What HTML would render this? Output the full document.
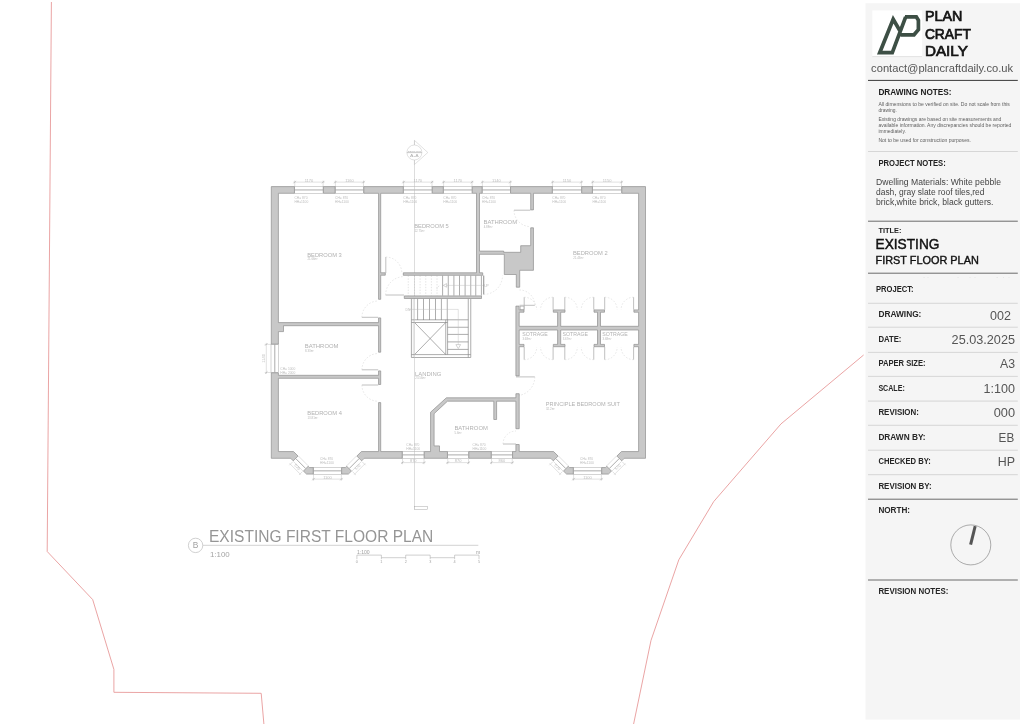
<!DOCTYPE html>
<html lang="en"><head><meta charset="utf-8"><title>Existing First Floor Plan</title>
<style>
html,body{margin:0;padding:0;background:#fff;}
body{width:1024px;height:724px;overflow:hidden;font-family:"Liberation Sans",sans-serif;}
svg{position:absolute;left:0;top:0;display:block;will-change:transform}
text{font-family:"Liberation Sans",sans-serif;}
.wall{fill:#c8c8c8;stroke:#8e8e8e;stroke-width:.7}
.win{fill:#fff;stroke:#a9a9a9;stroke-width:.5}
.sq{fill:#fff;stroke:#a9a9a9;stroke-width:.5}
.l{stroke:#a9a9a9;stroke-width:.6;fill:none}
.t{stroke:#bdbdbd;stroke-width:.45;fill:none}
.wm{stroke:#ababab;stroke-width:1;fill:none}
.st{stroke:#8a8a8a;stroke-width:.7;fill:none}
.sec{stroke:#bababa;stroke-width:.5;fill:none}
.leaf{stroke:#b0b0b0;stroke-width:.8;fill:none}
.arc{stroke:#cfcfcf;stroke-width:.5;fill:none;stroke-dasharray:1.6 1.6}
.dash{stroke:#c8c8c8;stroke-width:.5;fill:none;stroke-dasharray:1.4 1.4}
.tri{fill:#fff;stroke:#a9a9a9;stroke-width:.5}
.red{stroke:#e89a9a;stroke-width:.9;fill:none}
.room{font-size:6px;fill:#b1b1b1}
.area{font-size:2.9px;fill:#b8b8b8}
.wl{font-size:3.3px;fill:#bcbcbc}
.dim{font-size:4px;fill:#bcbcbc}
.sec1{font-size:2.4px;fill:#b4b4b4}
.sm{stroke:#c2c2c2;stroke-width:.5;fill:none}
.sm2{stroke:#b4b4b4;stroke-width:.7}
.sec2{font-size:4.1px;fill:#b0b0b0}
.tb{font-size:8.4px;fill:#a2a2a2}
.tl{stroke:#c6c6c6;stroke-width:.8}
.title{font-size:15.6px;fill:#959595}
.tscale{font-size:7.9px;fill:#a4a4a4}
.sb{stroke:#a8a8a8;stroke-width:.55}
.sbn{font-size:3.8px;fill:#a4a4a4}
.sbt{font-size:5.1px;fill:#a0a0a0}
.brand{font-size:14.2px;fill:#141414;stroke:#141414;stroke-width:.7}
.email{font-size:11.2px;fill:#555}
.d1{stroke:#3a3a3a;stroke-width:1}
.d2{stroke:#6a6a6a;stroke-width:1}
.d3{stroke:#d2d2d2;stroke-width:.9}
.h1{font-size:9px;font-weight:bold;fill:#1c1c1c}
.h2{font-size:8.6px;font-weight:bold;fill:#222}
.h3{font-size:7.8px;font-weight:bold;fill:#222}
.h3b{font-size:8.2px;font-weight:bold;fill:#262626}
.note{font-size:5px;fill:#606060}
.pn{font-size:8.3px;fill:#444}
.t1{font-size:14.5px;fill:#111;stroke:#111;stroke-width:.45}
.t2{font-size:11.2px;fill:#111;stroke:#111;stroke-width:.4}
.val{font-size:12.6px;fill:#555}
</style></head>
<body>
<svg width="1024" height="724" viewBox="0 0 1024 724">
<rect width="1024" height="724" fill="#ffffff"/>
<g id="plan">
<rect class="win" x="294.75" y="186.30" width="28.35" height="7.30"/>
<line class="wm" x1="294.75" y1="189.95" x2="323.10" y2="189.95"/>
<line class="t" x1="293.25" y1="182.10" x2="324.60" y2="182.10"/>
<line class="t" x1="294.75" y1="180.50" x2="294.75" y2="186.30"/>
<line class="t" x1="323.10" y1="180.50" x2="323.10" y2="186.30"/>
<line class="l" x1="293.55" y1="183.30" x2="295.95" y2="180.90"/>
<line class="l" x1="321.90" y1="183.30" x2="324.30" y2="180.90"/>
<text class="dim" x="308.93" y="181.60" text-anchor="middle">1170</text>
<text class="wl" x="294.45" y="199.20" >CH= 870</text>
<text class="wl" x="294.45" y="203.30" >HH=1100</text>
<rect class="win" x="335.40" y="186.30" width="28.10" height="7.30"/>
<line class="wm" x1="335.40" y1="189.95" x2="363.50" y2="189.95"/>
<line class="t" x1="333.90" y1="182.10" x2="365.00" y2="182.10"/>
<line class="t" x1="335.40" y1="180.50" x2="335.40" y2="186.30"/>
<line class="t" x1="363.50" y1="180.50" x2="363.50" y2="186.30"/>
<line class="l" x1="334.20" y1="183.30" x2="336.60" y2="180.90"/>
<line class="l" x1="362.30" y1="183.30" x2="364.70" y2="180.90"/>
<text class="dim" x="349.45" y="181.60" text-anchor="middle">1160</text>
<text class="wl" x="335.10" y="199.20" >CH= 870</text>
<text class="wl" x="335.10" y="203.30" >HH=1100</text>
<rect class="win" x="403.60" y="186.30" width="28.40" height="7.30"/>
<line class="wm" x1="403.60" y1="189.95" x2="432.00" y2="189.95"/>
<line class="t" x1="402.10" y1="182.10" x2="433.50" y2="182.10"/>
<line class="t" x1="403.60" y1="180.50" x2="403.60" y2="186.30"/>
<line class="t" x1="432.00" y1="180.50" x2="432.00" y2="186.30"/>
<line class="l" x1="402.40" y1="183.30" x2="404.80" y2="180.90"/>
<line class="l" x1="430.80" y1="183.30" x2="433.20" y2="180.90"/>
<text class="dim" x="417.80" y="181.60" text-anchor="middle">1170</text>
<text class="wl" x="403.30" y="199.20" >CH= 870</text>
<text class="wl" x="403.30" y="203.30" >HH=1100</text>
<rect class="win" x="443.60" y="186.30" width="28.40" height="7.30"/>
<line class="wm" x1="443.60" y1="189.95" x2="472.00" y2="189.95"/>
<line class="t" x1="442.10" y1="182.10" x2="473.50" y2="182.10"/>
<line class="t" x1="443.60" y1="180.50" x2="443.60" y2="186.30"/>
<line class="t" x1="472.00" y1="180.50" x2="472.00" y2="186.30"/>
<line class="l" x1="442.40" y1="183.30" x2="444.80" y2="180.90"/>
<line class="l" x1="470.80" y1="183.30" x2="473.20" y2="180.90"/>
<text class="dim" x="457.80" y="181.60" text-anchor="middle">1170</text>
<text class="wl" x="443.30" y="199.20" >CH= 870</text>
<text class="wl" x="443.30" y="203.30" >HH=1100</text>
<rect class="win" x="482.40" y="186.30" width="27.85" height="7.30"/>
<line class="wm" x1="482.40" y1="189.95" x2="510.25" y2="189.95"/>
<line class="t" x1="480.90" y1="182.10" x2="511.75" y2="182.10"/>
<line class="t" x1="482.40" y1="180.50" x2="482.40" y2="186.30"/>
<line class="t" x1="510.25" y1="180.50" x2="510.25" y2="186.30"/>
<line class="l" x1="481.20" y1="183.30" x2="483.60" y2="180.90"/>
<line class="l" x1="509.05" y1="183.30" x2="511.45" y2="180.90"/>
<text class="dim" x="496.32" y="181.60" text-anchor="middle">1140</text>
<text class="wl" x="482.10" y="199.20" >CH= 870</text>
<text class="wl" x="482.10" y="203.30" >HH=1100</text>
<rect class="win" x="552.60" y="186.30" width="28.80" height="7.30"/>
<line class="wm" x1="552.60" y1="189.95" x2="581.40" y2="189.95"/>
<line class="t" x1="551.10" y1="182.10" x2="582.90" y2="182.10"/>
<line class="t" x1="552.60" y1="180.50" x2="552.60" y2="186.30"/>
<line class="t" x1="581.40" y1="180.50" x2="581.40" y2="186.30"/>
<line class="l" x1="551.40" y1="183.30" x2="553.80" y2="180.90"/>
<line class="l" x1="580.20" y1="183.30" x2="582.60" y2="180.90"/>
<text class="dim" x="567.00" y="181.60" text-anchor="middle">1150</text>
<text class="wl" x="552.30" y="199.20" >CH= 870</text>
<text class="wl" x="552.30" y="203.30" >HH=1100</text>
<rect class="win" x="592.70" y="186.30" width="28.80" height="7.30"/>
<line class="wm" x1="592.70" y1="189.95" x2="621.50" y2="189.95"/>
<line class="t" x1="591.20" y1="182.10" x2="623.00" y2="182.10"/>
<line class="t" x1="592.70" y1="180.50" x2="592.70" y2="186.30"/>
<line class="t" x1="621.50" y1="180.50" x2="621.50" y2="186.30"/>
<line class="l" x1="591.50" y1="183.30" x2="593.90" y2="180.90"/>
<line class="l" x1="620.30" y1="183.30" x2="622.70" y2="180.90"/>
<text class="dim" x="607.10" y="181.60" text-anchor="middle">1150</text>
<text class="wl" x="592.40" y="199.20" >CH= 870</text>
<text class="wl" x="592.40" y="203.30" >HH=1100</text>
<line class="t" x1="298.46" y1="456.06" x2="308.22" y2="465.82"/>
<line class="wm" x1="295.84" y1="458.67" x2="305.60" y2="468.43"/>
<line class="t" x1="293.23" y1="461.29" x2="302.98" y2="471.05"/>
<line class="t" x1="289.62" y1="463.48" x2="300.79" y2="474.66"/>
<line class="t" x1="292.66" y1="461.86" x2="289.27" y2="465.25"/>
<line class="t" x1="302.42" y1="471.61" x2="299.02" y2="475.01"/>
<text class="dim" text-anchor="middle" transform="translate(296.34,467.94) rotate(45)">570</text>
<line class="t" x1="356.44" y1="456.06" x2="346.68" y2="465.82"/>
<line class="wm" x1="359.06" y1="458.67" x2="349.30" y2="468.43"/>
<line class="t" x1="361.67" y1="461.29" x2="351.92" y2="471.05"/>
<line class="t" x1="365.28" y1="463.48" x2="354.11" y2="474.66"/>
<line class="t" x1="362.24" y1="461.86" x2="365.63" y2="465.25"/>
<line class="t" x1="352.48" y1="471.61" x2="355.88" y2="475.01"/>
<text class="dim" text-anchor="middle" transform="translate(358.56,467.94) rotate(-45)">570</text>
<rect class="win" x="313.55" y="467.25" width="27.80" height="7.15"/>
<line class="wm" x1="313.55" y1="470.85" x2="341.35" y2="470.85"/>
<line class="t" x1="312.05" y1="479.10" x2="342.85" y2="479.10"/>
<line class="t" x1="313.55" y1="474.40" x2="313.55" y2="480.70"/>
<line class="t" x1="341.35" y1="474.40" x2="341.35" y2="480.70"/>
<line class="l" x1="312.35" y1="480.30" x2="314.75" y2="477.90"/>
<line class="l" x1="340.15" y1="480.30" x2="342.55" y2="477.90"/>
<text class="dim" x="327.45" y="478.60" text-anchor="middle">1100</text>
<text class="wl" x="320.05" y="459.60" >CH= 870</text>
<text class="wl" x="320.05" y="463.70" >HH=1100</text>
<line class="t" x1="558.51" y1="456.06" x2="568.27" y2="465.82"/>
<line class="wm" x1="555.89" y1="458.67" x2="565.65" y2="468.43"/>
<line class="t" x1="553.28" y1="461.29" x2="563.03" y2="471.05"/>
<line class="t" x1="549.67" y1="463.48" x2="560.84" y2="474.66"/>
<line class="t" x1="552.71" y1="461.86" x2="549.32" y2="465.25"/>
<line class="t" x1="562.47" y1="471.61" x2="559.07" y2="475.01"/>
<text class="dim" text-anchor="middle" transform="translate(556.39,467.94) rotate(45)">570</text>
<line class="t" x1="616.49" y1="456.06" x2="606.73" y2="465.82"/>
<line class="wm" x1="619.11" y1="458.67" x2="609.35" y2="468.43"/>
<line class="t" x1="621.72" y1="461.29" x2="611.97" y2="471.05"/>
<line class="t" x1="625.33" y1="463.48" x2="614.16" y2="474.66"/>
<line class="t" x1="622.29" y1="461.86" x2="625.68" y2="465.25"/>
<line class="t" x1="612.53" y1="471.61" x2="615.93" y2="475.01"/>
<text class="dim" text-anchor="middle" transform="translate(618.61,467.94) rotate(-45)">570</text>
<rect class="win" x="573.60" y="467.25" width="27.80" height="7.15"/>
<line class="wm" x1="573.60" y1="470.85" x2="601.40" y2="470.85"/>
<line class="t" x1="572.10" y1="479.10" x2="602.90" y2="479.10"/>
<line class="t" x1="573.60" y1="474.40" x2="573.60" y2="480.70"/>
<line class="t" x1="601.40" y1="474.40" x2="601.40" y2="480.70"/>
<line class="l" x1="572.40" y1="480.30" x2="574.80" y2="477.90"/>
<line class="l" x1="600.20" y1="480.30" x2="602.60" y2="477.90"/>
<text class="dim" x="587.50" y="478.60" text-anchor="middle">1100</text>
<text class="wl" x="580.10" y="459.60" >CH= 870</text>
<text class="wl" x="580.10" y="463.70" >HH=1100</text>
<rect class="win" x="402.50" y="451.25" width="21.50" height="7.35"/>
<line class="wm" x1="402.50" y1="454.90" x2="424.00" y2="454.90"/>
<line class="t" x1="401.00" y1="462.60" x2="425.50" y2="462.60"/>
<line class="t" x1="402.50" y1="458.60" x2="402.50" y2="464.20"/>
<line class="t" x1="424.00" y1="458.60" x2="424.00" y2="464.20"/>
<line class="l" x1="401.30" y1="463.80" x2="403.70" y2="461.40"/>
<line class="l" x1="422.80" y1="463.80" x2="425.20" y2="461.40"/>
<text class="dim" x="413.25" y="462.20" text-anchor="middle">870</text>
<rect class="win" x="447.75" y="451.25" width="20.75" height="7.35"/>
<line class="wm" x1="447.75" y1="454.90" x2="468.50" y2="454.90"/>
<line class="t" x1="446.25" y1="462.60" x2="470.00" y2="462.60"/>
<line class="t" x1="447.75" y1="458.60" x2="447.75" y2="464.20"/>
<line class="t" x1="468.50" y1="458.60" x2="468.50" y2="464.20"/>
<line class="l" x1="446.55" y1="463.80" x2="448.95" y2="461.40"/>
<line class="l" x1="467.30" y1="463.80" x2="469.70" y2="461.40"/>
<text class="dim" x="458.12" y="462.20" text-anchor="middle">870</text>
<rect class="win" x="491.50" y="451.25" width="20.75" height="7.35"/>
<line class="wm" x1="491.50" y1="454.90" x2="512.25" y2="454.90"/>
<line class="t" x1="490.00" y1="462.60" x2="513.75" y2="462.60"/>
<line class="t" x1="491.50" y1="458.60" x2="491.50" y2="464.20"/>
<line class="t" x1="512.25" y1="458.60" x2="512.25" y2="464.20"/>
<line class="l" x1="490.30" y1="463.80" x2="492.70" y2="461.40"/>
<line class="l" x1="511.05" y1="463.80" x2="513.45" y2="461.40"/>
<text class="dim" x="501.88" y="462.20" text-anchor="middle">860</text>
<text class="wl" x="406.30" y="445.60" >CH= 870</text>
<text class="wl" x="406.30" y="449.50" >HH=1100</text>
<text class="wl" x="472.50" y="445.60" >CH= 870</text>
<text class="wl" x="472.50" y="449.50" >HH=1100</text>
<rect class="win" x="271.00" y="344.40" width="7.70" height="28.10"/>
<line class="wm" x1="274.80" y1="344.40" x2="274.80" y2="372.50"/>
<line class="t" x1="266.30" y1="342.90" x2="266.30" y2="374.00"/>
<line class="t" x1="264.70" y1="344.40" x2="271.00" y2="344.40"/>
<line class="t" x1="264.70" y1="372.50" x2="271.00" y2="372.50"/>
<line class="l" x1="265.10" y1="345.60" x2="267.50" y2="343.20"/>
<line class="l" x1="265.10" y1="373.70" x2="267.50" y2="371.30"/>
<text class="dim" text-anchor="middle" transform="translate(265.40,358.4) rotate(-90)">1140</text>
<text class="wl" x="280.30" y="369.90" >CH= 1000</text>
<text class="wl" x="280.30" y="373.70" >HH= 2000</text>
<line class="leaf" x1="378.20" y1="317.30" x2="361.90" y2="317.30"/>
<path class="arc" d="M361.90,317.30 A16.30,16.30 0 0 1 378.20,301.00"/>
<line class="leaf" x1="378.20" y1="369.80" x2="361.90" y2="369.80"/>
<path class="arc" d="M361.90,369.80 A16.30,16.30 0 0 1 378.20,353.50"/>
<line class="leaf" x1="378.20" y1="385.00" x2="361.90" y2="385.00"/>
<path class="arc" d="M361.90,385.00 A16.30,16.30 0 0 0 378.20,401.30"/>
<line class="leaf" x1="385.80" y1="273.00" x2="385.80" y2="257.00"/>
<path class="arc" d="M385.80,257.00 A16.00,16.00 0 0 1 401.80,273.00"/>
<line class="leaf" x1="404.00" y1="295.00" x2="385.60" y2="295.00"/>
<path class="arc" d="M385.60,295.00 A18.40,18.40 0 0 1 404.00,276.60"/>
<line class="leaf" x1="483.70" y1="275.60" x2="483.70" y2="294.40"/>
<path class="arc" d="M483.70,294.40 A18.80,18.80 0 0 0 502.50,275.60"/>
<line class="leaf" x1="530.40" y1="210.20" x2="514.00" y2="210.20"/>
<path class="arc" d="M514.00,210.20 A16.40,16.40 0 0 0 530.40,226.60"/>
<line class="leaf" x1="519.50" y1="305.30" x2="534.80" y2="305.30"/>
<path class="arc" d="M534.80,305.30 A15.30,15.30 0 0 0 519.50,290.00"/>
<rect class="sq" x="520.30" y="306.50" width="3.70" height="3.30"/>
<line class="leaf" x1="516.00" y1="376.90" x2="534.80" y2="376.90"/>
<path class="arc" d="M534.80,376.90 A18.80,18.80 0 0 1 516.00,395.70"/>
<line class="leaf" x1="516.00" y1="444.00" x2="503.00" y2="444.00"/>
<path class="arc" d="M503.00,444.00 A13.00,13.00 0 0 1 516.00,431.00"/>
<line class="leaf" x1="524.20" y1="309.70" x2="524.20" y2="297.20"/>
<line class="leaf" x1="524.20" y1="346.90" x2="524.20" y2="359.70"/>
<path class="arc" d="M524.20,297.2 A12.5,12.5 0 0 1 536.70,309.7"/>
<path class="arc" d="M524.20,359.7 A12.5,12.5 0 0 0 536.70,347.2"/>
<line class="leaf" x1="553.10" y1="309.70" x2="553.10" y2="297.20"/>
<line class="leaf" x1="553.10" y1="346.90" x2="553.10" y2="359.70"/>
<path class="arc" d="M553.10,297.2 A12.5,12.5 0 0 0 540.60,309.7"/>
<path class="arc" d="M553.10,359.7 A12.5,12.5 0 0 1 540.60,347.2"/>
<line class="leaf" x1="564.80" y1="309.70" x2="564.80" y2="297.20"/>
<line class="leaf" x1="564.80" y1="346.90" x2="564.80" y2="359.70"/>
<path class="arc" d="M564.80,297.2 A12.5,12.5 0 0 1 577.30,309.7"/>
<path class="arc" d="M564.80,359.7 A12.5,12.5 0 0 0 577.30,347.2"/>
<line class="leaf" x1="593.75" y1="309.70" x2="593.75" y2="297.20"/>
<line class="leaf" x1="593.75" y1="346.90" x2="593.75" y2="359.70"/>
<path class="arc" d="M593.75,297.2 A12.5,12.5 0 0 0 581.25,309.7"/>
<path class="arc" d="M593.75,359.7 A12.5,12.5 0 0 1 581.25,347.2"/>
<line class="leaf" x1="604.70" y1="309.70" x2="604.70" y2="297.20"/>
<line class="leaf" x1="604.70" y1="346.90" x2="604.70" y2="359.70"/>
<path class="arc" d="M604.70,297.2 A12.5,12.5 0 0 1 617.20,309.7"/>
<path class="arc" d="M604.70,359.7 A12.5,12.5 0 0 0 617.20,347.2"/>
<line class="leaf" x1="633.60" y1="309.70" x2="633.60" y2="297.20"/>
<line class="leaf" x1="633.60" y1="346.90" x2="633.60" y2="359.70"/>
<path class="arc" d="M633.60,297.2 A12.5,12.5 0 0 0 621.10,309.7"/>
<path class="arc" d="M633.60,359.7 A12.5,12.5 0 0 1 621.10,347.2"/>
<line class="st" x1="442.60" y1="275.60" x2="442.60" y2="295.60"/>
<line class="st" x1="448.25" y1="275.60" x2="448.25" y2="295.60"/>
<line class="st" x1="453.90" y1="275.60" x2="453.90" y2="295.60"/>
<line class="st" x1="459.50" y1="275.60" x2="459.50" y2="295.60"/>
<line class="st" x1="465.10" y1="275.60" x2="465.10" y2="295.60"/>
<line class="st" x1="470.75" y1="275.60" x2="470.75" y2="295.60"/>
<line class="st" x1="475.75" y1="275.60" x2="475.75" y2="295.60"/>
<line class="st" x1="481.40" y1="275.60" x2="481.40" y2="295.60"/>
<line class="dash" x1="408.25" y1="275.60" x2="408.25" y2="295.60"/>
<line class="dash" x1="414.50" y1="275.60" x2="414.50" y2="295.60"/>
<line class="dash" x1="420.10" y1="275.60" x2="420.10" y2="295.60"/>
<line class="dash" x1="425.75" y1="275.60" x2="425.75" y2="295.60"/>
<line class="dash" x1="431.40" y1="275.60" x2="431.40" y2="295.60"/>
<line class="dash" x1="437.00" y1="275.60" x2="437.00" y2="295.60"/>
<line class="t" x1="446.50" y1="285.40" x2="484.50" y2="285.40"/>
<polygon class="tri" points="443.20,285.40 446.60,283.60 446.60,287.20"/>
<path class="dash" d="M437,289 L437,287.5 L440,285.4"/>
<text class="wl" x="484.20" y="286.60" >UP</text>
<line class="st" x1="483.70" y1="275.60" x2="483.70" y2="294.40"/>
<line class="st" x1="417.60" y1="298.80" x2="417.60" y2="320.00"/>
<line class="st" x1="423.50" y1="298.80" x2="423.50" y2="320.00"/>
<line class="st" x1="429.50" y1="298.80" x2="429.50" y2="320.00"/>
<line class="st" x1="435.50" y1="298.80" x2="435.50" y2="320.00"/>
<line class="st" x1="441.40" y1="298.80" x2="441.40" y2="320.00"/>
<line class="st" x1="447.25" y1="298.80" x2="447.25" y2="320.00"/>
<line class="st" x1="411.40" y1="298.80" x2="411.40" y2="357.50"/>
<line class="t" x1="413.30" y1="298.80" x2="413.30" y2="357.50"/>
<line class="st" x1="468.25" y1="298.80" x2="468.25" y2="357.50"/>
<line class="st" x1="470.75" y1="298.80" x2="470.75" y2="357.50"/>
<line class="st" x1="411.40" y1="319.80" x2="468.25" y2="319.80"/>
<line class="st" x1="411.40" y1="322.50" x2="447.60" y2="322.50"/>
<line class="st" x1="411.40" y1="354.60" x2="470.75" y2="354.60"/>
<line class="st" x1="411.40" y1="357.50" x2="470.75" y2="357.50"/>
<line class="st" x1="445.75" y1="319.80" x2="445.75" y2="354.60"/>
<line class="st" x1="447.60" y1="319.80" x2="447.60" y2="354.60"/>
<line class="st" x1="447.60" y1="327.25" x2="468.25" y2="327.25"/>
<line class="st" x1="447.60" y1="334.40" x2="468.25" y2="334.40"/>
<line class="st" x1="447.60" y1="341.90" x2="468.25" y2="341.90"/>
<line class="st" x1="447.60" y1="349.40" x2="468.25" y2="349.40"/>
<line class="st" x1="414.50" y1="322.50" x2="445.75" y2="354.60"/>
<line class="st" x1="445.75" y1="322.50" x2="414.50" y2="354.60"/>
<path class="t" d="M409.5,309.4 L458.25,309.4 L458.25,345"/>
<polygon class="tri" points="455.90,344.60 460.60,344.60 458.25,348.60"/>
<text class="wl" x="405.60" y="310.50" >DN</text>
<line class="sec" x1="414.50" y1="140.30" x2="414.50" y2="509.50"/>
<rect class="sq" x="414.50" y="506.40" width="13.00" height="3.10"/>
<path class="sm" d="M414.4,145 L414.4,140.3 L427.8,152.5 L414.4,164.6 L414.4,160"/>
<circle class="sm" cx="414.4" cy="152.5" r="7.5" style="fill:#fff"/>
<line class="sm2" x1="406.90" y1="152.60" x2="421.90" y2="152.60"/>
<text class="sec1" x="414.40" y="151.60" text-anchor="middle" textLength="13.4" lengthAdjust="spacingAndGlyphs">SECTION</text>
<text class="sec2" x="414.40" y="157.40" text-anchor="middle" textLength="8.6" lengthAdjust="spacingAndGlyphs">A-A</text>
<text class="room" x="307.20" y="256.50" textLength="34.6" lengthAdjust="spacingAndGlyphs">BEDROOM 3</text>
<text class="area" x="307.40" y="260.20" >21.66m²</text>
<text class="room" x="414.20" y="228.00" textLength="34.6" lengthAdjust="spacingAndGlyphs">BEDROOM 5</text>
<text class="area" x="414.40" y="231.70" >12.75m²</text>
<text class="room" x="483.50" y="224.00" textLength="33.6" lengthAdjust="spacingAndGlyphs">BATHROOM</text>
<text class="area" x="483.70" y="227.70" >4.88m²</text>
<text class="room" x="573.00" y="255.00" textLength="34.6" lengthAdjust="spacingAndGlyphs">BEDROOM 2</text>
<text class="area" x="573.20" y="258.70" >21.43m²</text>
<text class="room" x="304.80" y="348.00" textLength="33.7" lengthAdjust="spacingAndGlyphs">BATHROOM</text>
<text class="area" x="305.00" y="351.70" >8.33m²</text>
<text class="room" x="307.30" y="415.30" textLength="34.6" lengthAdjust="spacingAndGlyphs">BEDROOM 4</text>
<text class="area" x="307.50" y="419.00" >13.81m²</text>
<text class="room" x="415.10" y="375.60" textLength="26.2" lengthAdjust="spacingAndGlyphs">LANDING</text>
<text class="area" x="415.30" y="379.30" >23.56m²</text>
<text class="room" x="454.40" y="430.00" textLength="33.5" lengthAdjust="spacingAndGlyphs">BATHROOM</text>
<text class="area" x="454.60" y="433.70" >5.6m²</text>
<text class="room" x="545.80" y="406.00" textLength="74.2" lengthAdjust="spacingAndGlyphs">PRINCIPLE BEDROOM SUIT</text>
<text class="area" x="546.00" y="409.70" >32.2m²</text>
<text class="room" x="522.20" y="336.00" textLength="25.5" lengthAdjust="spacingAndGlyphs">SOTRAGE</text>
<text class="area" x="522.40" y="339.70" >3.68m²</text>
<text class="room" x="562.50" y="336.00" textLength="25.5" lengthAdjust="spacingAndGlyphs">SOTRAGE</text>
<text class="area" x="562.70" y="339.70" >3.67m²</text>
<text class="room" x="602.30" y="336.00" textLength="25.5" lengthAdjust="spacingAndGlyphs">SOTRAGE</text>
<text class="area" x="602.50" y="339.70" >3.68m²</text>
<circle cx="195.6" cy="545.4" r="7.2" fill="#fff" stroke="#c4c4c4" stroke-width="0.8"/>
<text class="tb" x="195.60" y="548.40" text-anchor="middle">B</text>
<line class="tl" x1="202.80" y1="545.30" x2="478.30" y2="545.30"/>
<text class="title" x="209.00" y="541.60" textLength="224.3" lengthAdjust="spacingAndGlyphs">EXISTING FIRST FLOOR PLAN</text>
<text class="tscale" x="209.90" y="556.90" textLength="19.8" lengthAdjust="spacingAndGlyphs">1:100</text>
<line class="sb" x1="356.90" y1="555.10" x2="381.40" y2="555.10"/>
<line class="sb" x1="381.40" y1="557.70" x2="405.70" y2="557.70"/>
<line class="sb" x1="405.70" y1="555.10" x2="430.20" y2="555.10"/>
<line class="sb" x1="430.20" y1="557.70" x2="454.60" y2="557.70"/>
<line class="sb" x1="454.60" y1="555.10" x2="479.00" y2="555.10"/>
<line class="sb" x1="356.90" y1="555.10" x2="356.90" y2="559.20"/>
<text class="sbn" x="356.90" y="563.30" text-anchor="middle">0</text>
<line class="sb" x1="381.40" y1="555.10" x2="381.40" y2="559.20"/>
<text class="sbn" x="381.40" y="563.30" text-anchor="middle">1</text>
<line class="sb" x1="405.70" y1="555.10" x2="405.70" y2="559.20"/>
<text class="sbn" x="405.70" y="563.30" text-anchor="middle">2</text>
<line class="sb" x1="430.20" y1="555.10" x2="430.20" y2="559.20"/>
<text class="sbn" x="430.20" y="563.30" text-anchor="middle">3</text>
<line class="sb" x1="454.60" y1="555.10" x2="454.60" y2="559.20"/>
<text class="sbn" x="454.60" y="563.30" text-anchor="middle">4</text>
<line class="sb" x1="479.00" y1="555.10" x2="479.00" y2="559.20"/>
<text class="sbn" x="479.00" y="563.30" text-anchor="middle">5</text>
<text class="sbt" x="356.90" y="553.50" >1:100</text>
<text class="sbt" x="476.00" y="553.50" >m</text>
<path class="red" d="M51.4,2 L47.2,551.5 L92.7,599.6 L113.9,669.4 L113.9,692.3 L261.2,693.3 L263.9,724"/>
<path class="red" d="M863.6,355 L781,423.9 L713.7,501.6 L678.8,559.8 L651,640.4 L633.6,724"/>
</g>
<g id="walls">
<path class="wall" fill-rule="evenodd" d="M515.90,306.10 L515.90,375.90 L519.20,375.90 L519.20,346.70 L524.00,346.70 L524.00,344.40 L519.20,344.40 L519.20,330.00 L557.60,330.00 L557.60,344.40 L553.30,344.40 L553.30,346.70 L565.00,346.70 L565.00,344.40 L560.70,344.40 L560.70,330.00 L597.50,330.00 L597.50,344.40 L594.00,344.40 L594.00,346.70 L604.50,346.70 L604.50,344.40 L600.50,344.40 L600.50,330.00 L638.60,330.00 L638.60,344.40 L633.90,344.40 L633.90,346.70 L638.60,346.70 L638.60,451.55 L621.42,451.55 L616.92,456.06 L621.72,460.86 L624.24,458.30 L645.50,458.30 L645.50,186.60 L621.80,186.60 L621.80,193.30 L638.60,193.30 L638.60,309.90 L633.90,309.90 L633.90,312.20 L638.60,312.20 L638.60,326.30 L600.50,326.30 L600.50,312.20 L604.50,312.20 L604.50,309.90 L594.00,309.90 L594.00,312.20 L597.50,312.20 L597.50,326.30 L560.70,326.30 L560.70,312.20 L565.00,312.20 L565.00,309.90 L553.30,309.90 L553.30,312.20 L557.60,312.20 L557.60,326.30 L519.20,326.30 L519.20,312.20 L524.00,312.20 L524.00,309.90 L519.20,309.90 L519.20,306.10 Z  M606.73,466.24 L605.42,467.55 L601.70,467.55 L601.70,474.10 L608.38,474.10 L611.54,471.04 Z  M592.40,193.30 L592.40,186.60 L581.70,186.60 L581.70,193.30 Z  M568.27,466.24 L563.46,471.04 L566.62,474.10 L573.30,474.10 L573.30,467.55 L569.58,467.55 Z  M512.55,451.55 L512.55,458.30 L550.76,458.30 L553.28,460.86 L558.08,456.06 L553.58,451.55 L519.20,451.55 L519.20,444.50 L515.90,444.50 L515.90,451.55 Z  M552.30,193.30 L552.30,186.60 L510.55,186.60 L510.55,193.30 L530.70,193.30 L530.70,209.90 L533.45,209.90 L533.45,193.30 Z  M479.50,254.30 L504.30,254.30 L504.30,274.50 L516.30,274.50 L516.30,287.20 L519.70,287.20 L519.70,270.30 L533.45,270.30 L533.45,227.80 L530.70,227.80 L530.70,245.70 L520.70,245.70 L520.70,252.30 L503.70,252.30 L503.70,251.10 L479.50,251.10 L479.50,193.30 L482.10,193.30 L482.10,186.60 L472.30,186.60 L472.30,193.30 L476.50,193.30 L476.50,272.80 L403.30,272.80 L403.30,275.30 L482.70,275.30 L482.70,272.80 L479.50,272.80 Z  M424.30,451.55 L424.30,458.30 L447.45,458.30 L447.45,451.55 L439.50,451.55 L439.50,445.90 L434.10,445.90 L434.10,413.67 L447.48,401.20 L493.80,401.20 L493.80,419.50 L496.60,419.50 L496.60,401.20 L515.90,401.20 L515.90,428.70 L519.20,428.70 L519.20,393.70 L515.90,393.70 L515.90,397.80 L446.37,397.80 L430.55,412.23 L430.55,451.55 Z  M491.20,458.30 L491.20,451.55 L468.80,451.55 L468.80,458.30 Z  M481.50,298.50 L481.50,295.90 L404.30,295.90 L404.30,298.50 Z  M443.30,193.30 L443.30,186.60 L432.30,186.60 L432.30,193.30 Z  M380.70,275.20 L385.30,275.20 L385.30,272.80 L380.70,272.80 L380.70,193.30 L403.30,193.30 L403.30,186.60 L363.80,186.60 L363.80,193.30 L378.55,193.30 L378.55,299.30 L380.70,299.30 Z  M361.37,451.55 L356.87,456.06 L361.67,460.86 L364.19,458.30 L402.20,458.30 L402.20,451.55 L380.70,451.55 L380.70,402.60 L378.55,402.60 L378.55,451.55 Z  M271.30,458.30 L290.71,458.30 L293.23,460.86 L298.03,456.06 L293.53,451.55 L278.40,451.55 L278.40,378.30 L378.55,378.30 L378.55,384.50 L380.70,384.50 L380.70,370.90 L378.55,370.90 L378.55,375.30 L278.40,375.30 L278.40,372.80 L271.30,372.80 Z  M283.50,325.70 L378.55,325.70 L378.55,352.20 L380.70,352.20 L380.70,317.90 L378.55,317.90 L378.55,322.60 L278.40,322.60 L278.40,193.30 L294.45,193.30 L294.45,186.60 L271.30,186.60 L271.30,344.10 L278.40,344.10 L278.40,331.60 L283.50,331.60 Z  M351.49,471.04 L346.68,466.24 L345.37,467.55 L341.65,467.55 L341.65,474.10 L348.33,474.10 Z  M335.10,193.30 L335.10,186.60 L323.40,186.60 L323.40,193.30 Z  M308.22,466.24 L303.41,471.04 L306.57,474.10 L313.25,474.10 L313.25,467.55 L309.53,467.55 Z "/>
</g>
<g id="sidebar">
<rect x="865.5" y="3.2" width="154.5" height="716.4" fill="#f5f5f5"/>
<rect x="872.3" y="10.4" width="49.8" height="46" fill="#ffffff"/>
<line x1="872.3" y1="56.6" x2="922" y2="56.6" stroke="#dcdcdc" stroke-width="0.8"/>
<path d="M905.7,16.8 L892.3,52.7 L879.7,52.7 L893.2,19.3 L899.9,30.7 M905.0,16.8 L916.3,16.8 L918.4,20.3 L918.4,29.6 L914.0,34.8 L900.6,34.8" fill="none" stroke="#3d4f45" stroke-width="3.7" stroke-linejoin="miter"/>
<text class="brand" x="924.90" y="21.30" textLength="37.5" lengthAdjust="spacingAndGlyphs">PLAN</text>
<text class="brand" x="924.90" y="39.00" textLength="46" lengthAdjust="spacingAndGlyphs">CRAFT</text>
<text class="brand" x="924.90" y="56.10" textLength="43" lengthAdjust="spacingAndGlyphs">DAILY</text>
<text class="email" x="871.10" y="72.20" textLength="142" lengthAdjust="spacingAndGlyphs">contact@plancraftdaily.co.uk</text>
<line class="d1" x1="868" y1="80.4" x2="1017.8" y2="80.4"/>
<text class="h1" x="878.40" y="94.90" textLength="73.2" lengthAdjust="spacingAndGlyphs">DRAWING NOTES:</text>
<text class="note" x="878.40" y="105.60" textLength="131.5" lengthAdjust="spacingAndGlyphs">All dimensions to be verified on site. Do not scale from this</text>
<text class="note" x="878.40" y="111.70" textLength="18.5" lengthAdjust="spacingAndGlyphs">drawing.</text>
<text class="note" x="878.40" y="120.50" textLength="123" lengthAdjust="spacingAndGlyphs">Existing drawings are based on site measurements and</text>
<text class="note" x="878.40" y="126.50" textLength="133" lengthAdjust="spacingAndGlyphs">available information. Any discrepancies should be reported</text>
<text class="note" x="878.40" y="132.50" textLength="27.5" lengthAdjust="spacingAndGlyphs">immediately.</text>
<text class="note" x="878.40" y="141.80" textLength="92.5" lengthAdjust="spacingAndGlyphs">Not to be used for construction purposes.</text>
<line class="d3" x1="868" y1="151.5" x2="1017.8" y2="151.5"/>
<text class="h2" x="878.40" y="166.30" textLength="67.3" lengthAdjust="spacingAndGlyphs">PROJECT NOTES:</text>
<text class="pn" x="876.00" y="184.80" textLength="125" lengthAdjust="spacingAndGlyphs">Dwelling Materials: White pebble</text>
<text class="pn" x="876.00" y="194.80" textLength="108.5" lengthAdjust="spacingAndGlyphs">dash, gray slate roof tiles,red</text>
<text class="pn" x="876.00" y="204.90" textLength="117.5" lengthAdjust="spacingAndGlyphs">brick,white brick, black gutters.</text>
<line class="d2" x1="868" y1="221.2" x2="1017.8" y2="221.2"/>
<text class="h3" x="878.40" y="232.80" textLength="23" lengthAdjust="spacingAndGlyphs">TITLE:</text>
<text class="t1" x="875.50" y="248.80" textLength="64" lengthAdjust="spacingAndGlyphs">EXISTING</text>
<text class="t2" x="875.50" y="264.00" textLength="103.3" lengthAdjust="spacingAndGlyphs">FIRST FLOOR PLAN</text>
<line class="d2" x1="868" y1="273.2" x2="1017.8" y2="273.2"/>
<rect x="923.5" y="277.2" width="1.2" height="0.8" fill="#e4e4e4"/>
<rect x="927.5" y="277.2" width="1.0" height="0.8" fill="#e4e4e4"/>
<rect x="957.5" y="277.2" width="1.2" height="0.8" fill="#e4e4e4"/>
<rect x="969.5" y="277.2" width="1.0" height="0.8" fill="#e4e4e4"/>
<rect x="974.5" y="277.2" width="1.0" height="0.8" fill="#e4e4e4"/>
<rect x="996.5" y="277.2" width="1.4" height="0.8" fill="#e4e4e4"/>
<rect x="1003" y="277.2" width="1.0" height="0.8" fill="#e4e4e4"/>
<rect x="1008.5" y="277.2" width="1.0" height="0.8" fill="#e4e4e4"/>
<text class="h2" x="876.00" y="292.00" textLength="37.6" lengthAdjust="spacingAndGlyphs">PROJECT:</text>
<line class="d3" x1="868" y1="303.3" x2="1017.8" y2="303.3"/>
<text class="h3b" x="878.40" y="316.80" textLength="43" lengthAdjust="spacingAndGlyphs">DRAWING:</text>
<text class="val" x="990.00" y="319.70" textLength="20.9" lengthAdjust="spacingAndGlyphs">002</text>
<line class="d3" x1="868" y1="327.2" x2="1017.8" y2="327.2"/>
<text class="h3b" x="878.40" y="342.00" textLength="23" lengthAdjust="spacingAndGlyphs">DATE:</text>
<text class="val" x="951.60" y="344.40" textLength="63.4" lengthAdjust="spacingAndGlyphs">25.03.2025</text>
<line class="d3" x1="868" y1="352.4" x2="1017.8" y2="352.4"/>
<text class="h3b" x="878.40" y="366.00" textLength="47.2" lengthAdjust="spacingAndGlyphs">PAPER SIZE:</text>
<text class="val" x="1000.00" y="368.40" textLength="15" lengthAdjust="spacingAndGlyphs">A3</text>
<line class="d3" x1="868" y1="376.4" x2="1017.8" y2="376.4"/>
<text class="h3b" x="878.40" y="390.90" textLength="26.4" lengthAdjust="spacingAndGlyphs">SCALE:</text>
<text class="val" x="983.60" y="392.80" textLength="31.4" lengthAdjust="spacingAndGlyphs">1:100</text>
<line class="d3" x1="868" y1="401.1" x2="1017.8" y2="401.1"/>
<text class="h3b" x="878.40" y="415.20" textLength="40.5" lengthAdjust="spacingAndGlyphs">REVISION:</text>
<text class="val" x="993.70" y="417.30" textLength="21.3" lengthAdjust="spacingAndGlyphs">000</text>
<line class="d3" x1="868" y1="425.3" x2="1017.8" y2="425.3"/>
<text class="h3b" x="878.40" y="440.00" textLength="47.2" lengthAdjust="spacingAndGlyphs">DRAWN BY:</text>
<text class="val" x="998.60" y="442.00" textLength="15.6" lengthAdjust="spacingAndGlyphs">EB</text>
<line class="d3" x1="868" y1="450.2" x2="1017.8" y2="450.2"/>
<text class="h3b" x="878.40" y="464.40" textLength="52.4" lengthAdjust="spacingAndGlyphs">CHECKED BY:</text>
<text class="val" x="997.70" y="466.40" textLength="17.3" lengthAdjust="spacingAndGlyphs">HP</text>
<line class="d3" x1="868" y1="474.7" x2="1017.8" y2="474.7"/>
<text class="h3b" x="878.40" y="489.20" textLength="53.2" lengthAdjust="spacingAndGlyphs">REVISION BY:</text>
<line class="d2" x1="868" y1="499.2" x2="1017.8" y2="499.2"/>
<text class="h3b" x="878.40" y="513.30" textLength="31.7" lengthAdjust="spacingAndGlyphs">NORTH:</text>
<circle cx="970.8" cy="544.9" r="20" fill="none" stroke="#8a8a8a" stroke-width="0.7"/>
<line x1="970.6" y1="544.6" x2="975.2" y2="526.2" stroke="#555" stroke-width="3"/>
<line class="d2" x1="868" y1="580.0" x2="1017.8" y2="580.0"/>
<text class="h3b" x="878.40" y="594.40" textLength="70" lengthAdjust="spacingAndGlyphs">REVISION NOTES:</text>
</g>
</svg>
</body></html>
